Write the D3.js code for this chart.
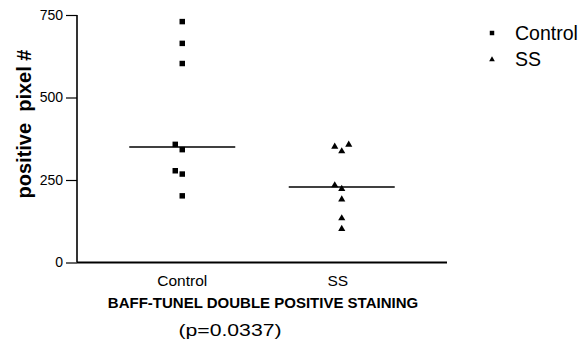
<!DOCTYPE html>
<html>
<head>
<meta charset="utf-8">
<script src="https://cdn.jsdelivr.net/npm/d3@7"></script>
<style>
  html, body { margin: 0; padding: 0; background: #fff; }
  svg { display: block; }
  text { font-family: "Liberation Sans", Arial, Helvetica, sans-serif; fill: #000; }
</style>
</head>
<body>
<svg id="chart" width="583" height="347"></svg>
<script>
// ---- data ----
const categories = ["Control", "SS"];
const controlValues = [730, 664, 603, 358, 342, 278, 268, 202];
const ssValues = [357, 351, 337, 234, 223, 191, 134, 102];
const yTicks = [0, 250, 500, 750];
const yLabel = "positive  pixel #";
const xTitle = "BAFF-TUNEL DOUBLE POSITIVE STAINING";
const pText = "(p=0.0337)";

const series = [
  { name: categories[0], values: controlValues, symbol: d3.symbolSquare },
  { name: categories[1], values: ssValues, symbol: d3.symbolTriangle }
];

// ---- layout ----
const svg = d3.select("#chart");
const plotLeft = 77, plotRight = 447, plotTop = 15, plotBottom = 262.5;

const y = d3.scaleLinear().domain([0, 750]).range([plotBottom, plotTop]);
const x = d3.scalePoint().domain(categories).range([plotLeft, plotRight]).padding(0.66);

// y axis
const yAxis = svg.append("g")
  .attr("transform", `translate(${plotLeft},0)`)
  .call(d3.axisLeft(y).tickValues(yTicks).tickSize(11).tickPadding(3).tickFormat(d3.format("d")));
yAxis.select(".domain").attr("stroke", "#000").attr("stroke-width", 1.6)
  .attr("d", `M0,${plotTop}V${plotBottom}`);
yAxis.selectAll(".tick line").attr("stroke", "#000").attr("stroke-width", 1.2);
yAxis.selectAll(".tick text")
  .style("font-family", "'Liberation Sans', Arial, sans-serif")
  .style("font-size", "14px").attr("fill", "#000");

// x axis line
svg.append("line")
  .attr("x1", plotLeft).attr("x2", plotRight)
  .attr("y1", plotBottom).attr("y2", plotBottom)
  .attr("stroke", "#000").attr("stroke-width", 2);

// category labels
svg.selectAll(".cat").data(categories).enter().append("text")
  .attr("class", "cat")
  .attr("x", (d, i) => x(d) + (i === 1 ? -4 : 0))
  .attr("y", 286)
  .attr("text-anchor", "middle")
  .style("font-size", "15.5px")
  .text(d => d);

// titles
svg.append("text").attr("x", 263).attr("y", 308).attr("text-anchor", "middle")
  .style("font-size", "15px").style("font-weight", "bold").text(xTitle);
svg.append("text").attr("x", 230).attr("y", 336).attr("text-anchor", "middle")
  .attr("textLength", 103).attr("lengthAdjust", "spacingAndGlyphs")
  .style("font-size", "16px").text(pText);

svg.append("text")
  .attr("transform", "translate(31,124) rotate(-90)")
  .attr("text-anchor", "middle")
  .style("font-size", "20px").style("font-weight", "bold")
  .style("white-space", "pre")
  .text(yLabel);

// simple dodge so overlapping points sit side by side
function dodge(values, cx) {
  const placed = [];
  const sorted = values.map(v => v).sort((a, b) => a - b);
  const step = 7;
  sorted.forEach(v => {
    const py = y(v);
    const cands = [0, -step, step, -2 * step, 2 * step];
    for (const off of cands) {
      const px = cx + off;
      if (!placed.some(p => Math.abs(p.x - px) < step && Math.abs(p.y - py) < step)) {
        placed.push({ x: px, y: py, v });
        break;
      }
    }
  });
  return placed;
}

series.forEach(s => {
  const cx = x(s.name);
  const pts = dodge(s.values, cx);
  const size = s.symbol === d3.symbolSquare ? 30 : 22;
  svg.append("g").selectAll("path").data(pts).enter().append("path")
    .attr("d", d3.symbol().type(s.symbol).size(size))
    .attr("transform", d => `translate(${d.x},${d.y})`)
    .attr("fill", "#000");
  const med = d3.median(s.values);
  svg.append("line")
    .attr("x1", cx - 53).attr("x2", cx + 53)
    .attr("y1", y(med)).attr("y2", y(med))
    .attr("stroke", "#000").attr("stroke-width", 1.5);
});

// legend
const legend = svg.append("g");
series.forEach((s, i) => {
  const ly = i === 0 ? 33 : 59.5;
  legend.append("path")
    .attr("d", d3.symbol().type(s.symbol).size(s.symbol === d3.symbolSquare ? 20 : 14))
    .attr("transform", `translate(492,${ly})`)
    .attr("fill", "#000");
  legend.append("text")
    .attr("x", 515).attr("y", ly + 6.5)
    .style("font-size", "19.5px")
    .text(s.name);
});
</script>
</body>
</html>
